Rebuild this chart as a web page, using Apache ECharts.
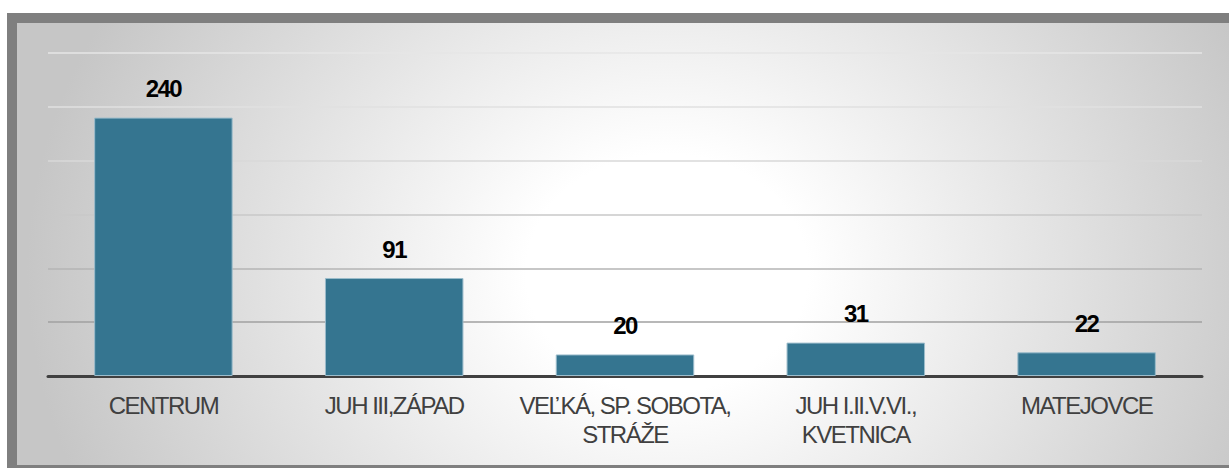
<!DOCTYPE html>
<html lang="sk">

<head>
    <meta charset="UTF-8">
    <title>Počet podľa častí mesta</title>
    <script src="https://cdn.jsdelivr.net/npm/echarts@6/dist/echarts.min.js"></script>
    <style>
        body { margin: 0; background: #fff; }
        #frame {
            position: absolute; left: 7px; top: 13px;
            width: 1212px; height: 442px;
            border-left: 10px solid #7f7f7f;
            border-top: 10px solid #7f7f7f;
            border-bottom: 3px solid #7f7f7f;
            background: radial-gradient(ellipse 640px 540px at 650px 250px, #ffffff 0%, #ffffff 22%, #c6c6c6 100%);
        }
        #container { width: 1212px; height: 442px; }
        /* tighter letter spacing like the original */
        #container text { letter-spacing: -1.5px; }
    </style>
</head>

<body>
    <div id="frame">
        <div id="container"></div>
    </div>

    <script>
        // data
        var categories = ['CENTRUM', 'JUH III,ZÁPAD', 'VEĽKÁ, SP. SOBOTA,\nSTRÁŽE', 'JUH I.II.V.VI.,\nKVETNICA', 'MATEJOVCE'];
        var values = [240, 91, 20, 31, 22];

        var myChart = echarts.init(document.getElementById('container'), null, { renderer: 'svg' });

        myChart.setOption({
            backgroundColor: 'transparent',
            animation: false,
            textStyle: { fontFamily: 'Liberation Sans, Arial, sans-serif' },
            grid: { left: 31, right: 27, top: 30, bottom: 89 },
            xAxis: {
                type: 'category',
                data: categories,
                axisTick: { show: false },
                axisLine: { lineStyle: { color: '#404040', width: 3 } },
                axisLabel: {
                    interval: 0,
                    margin: 15,
                    fontSize: 24,
                    lineHeight: 29,
                    color: '#404040'
                }
            },
            yAxis: {
                type: 'value',
                min: 0,
                max: 300,
                interval: 50,
                axisLabel: { show: false },
                axisLine: { show: false },
                axisTick: { show: false },
                splitLine: {
                    lineStyle: {
                        // lines get lighter towards the top
                        color: ['#999999', '#a0a0a0', '#b4b4b4', '#c8c8c8', '#d9d9d9', '#e0e0e0', '#e6e6e6'],
                        width: 1.5
                    }
                }
            },
            series: [{
                type: 'bar',
                data: values,
                barWidth: '60%',
                itemStyle: {
                    color: '#357590',
                    borderColor: '#9bbccb',
                    borderWidth: 1
                },
                label: {
                    show: true,
                    position: 'top',
                    distance: 17,
                    fontSize: 24,
                    fontWeight: 'bold',
                    color: '#000'
                }
            }]
        })
    </script>
</body>

</html>
